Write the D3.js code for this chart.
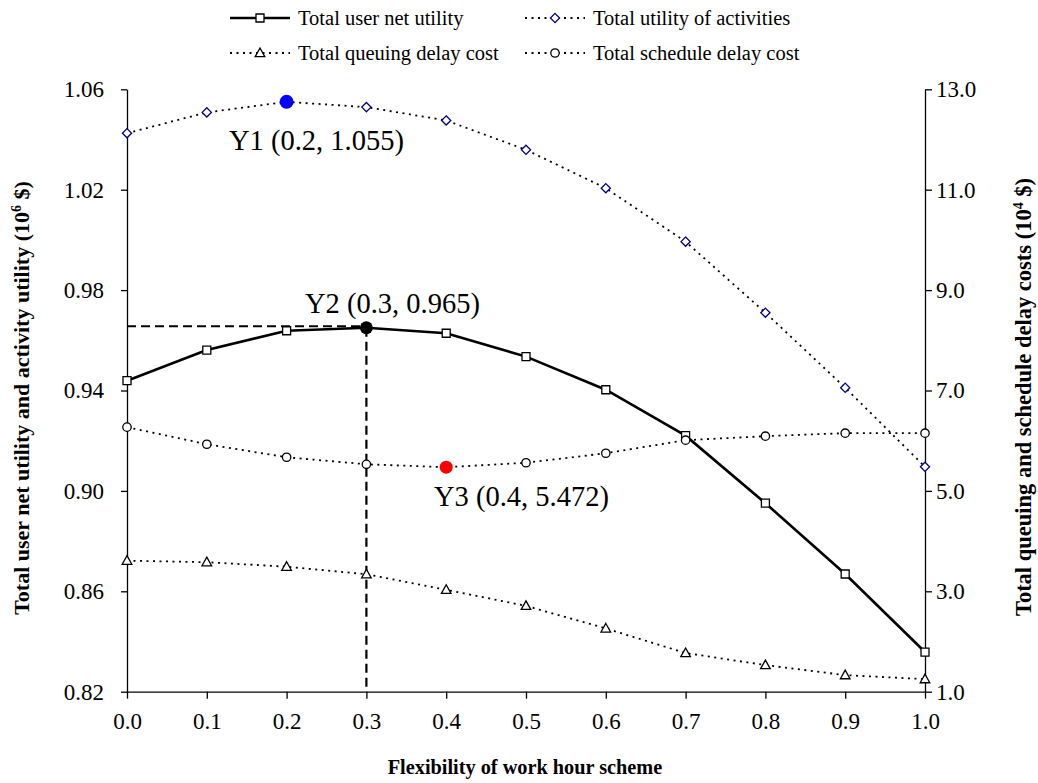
<!DOCTYPE html>
<html><head><meta charset="utf-8">
<script src="https://cdn.jsdelivr.net/npm/d3@7"></script>
<style>
body{margin:0;background:#fff}
svg{display:block;font-family:"Liberation Serif","Times New Roman",serif}
</style>
</head><body>
<svg id="chart" width="1038" height="783"></svg>
<script>
// ---------- data ----------
const flexibility = [0.0,0.1,0.2,0.3,0.4,0.5,0.6,0.7,0.8,0.9,1.0];
const netUtility = [0.9439,0.9561,0.9638,0.9650,0.9628,0.9535,0.9403,0.9220,0.8951,0.8669,0.8358];
const activityUtility = [1.0425,1.0508,1.0550,1.0529,1.0476,1.0359,1.0206,0.9993,0.9710,0.9411,0.9096];
const queuingCost = [3.61,3.58,3.49,3.34,3.03,2.71,2.26,1.77,1.53,1.33,1.25];
const scheduleCost = [6.27,5.93,5.67,5.53,5.472,5.56,5.75,6.01,6.09,6.15,6.15];
const leftTicks = [0.82,0.86,0.90,0.94,0.98,1.02,1.06];
const rightTicks = [1,3,5,7,9,11,13];
const xTicks = [0,0.1,0.2,0.3,0.4,0.5,0.6,0.7,0.8,0.9,1.0];
const seriesNames = ["Total user net utility","Total utility of activities","Total queuing delay cost","Total schedule delay cost"];
const highlightLabels = ["Y1 (0.2, 1.055)","Y2 (0.3, 0.965)","Y3 (0.4, 5.472)"];
const highlightX = [0.2,0.3,0.4];
const highlightY = [1.055,0.965,5.472];
const xTitle = "Flexibility of work hour scheme";

const FONT = '"Liberation Serif","Times New Roman",serif';

// ---------- scales ----------
const svg = d3.select("#chart");
const x = d3.scaleLinear().domain([0,1]).range([127,925]);
const yL = d3.scaleLinear().domain([0.82,1.06]).range([691.7,89.3]);
const yR = d3.scaleLinear().domain([1,13]).range([691.7,89.3]);

// ---------- axes ----------
function styleAxis(g){
  g.attr("font-family",FONT);
  g.selectAll("path,line").attr("stroke","#000").attr("stroke-width",1.3);
  g.selectAll("text").style("font-family",FONT).style("font-size","23px").attr("fill","#000");
}
svg.append("g").attr("transform","translate(0,691.7)")
  .call(d3.axisBottom(x).tickValues(xTicks).tickFormat(d3.format(".1f")).tickSize(7).tickSizeOuter(0).tickPadding(14))
  .call(styleAxis);
svg.append("g").attr("transform","translate(127,0)")
  .call(d3.axisLeft(yL).tickValues(leftTicks).tickFormat(d3.format(".2f")).tickSize(6).tickSizeOuter(0).tickPadding(17))
  .call(styleAxis);
svg.append("g").attr("transform","translate(925,0)")
  .call(d3.axisRight(yR).tickValues(rightTicks).tickFormat(d3.format(".1f")).tickSize(7).tickSizeOuter(0).tickPadding(4))
  .call(styleAxis);
svg.selectAll(".domain").attr("fill","none");

// ---------- axis titles ----------
function title(tx,ty,main,sup,size){
  const t = svg.append("text").attr("transform",`translate(${tx},${ty}) rotate(-90)`)
    .attr("text-anchor","middle").style("font-family",FONT).style("font-size",size+"px").style("font-weight","bold");
  t.append("tspan").text(main);
  t.append("tspan").text(sup).style("font-size","14px").attr("dy","-8");
  t.append("tspan").text(" $)").attr("dy","8");
}
title(29,398,"Total user net utility and activity utility (10","6",22);
title(1031,397,"Total queuing and schedule delay costs (10","4",22.5);

svg.append("text").attr("x",525).attr("y",774).attr("text-anchor","middle")
  .style("font-family",FONT).style("font-size","20.3px").style("font-weight","bold").text(xTitle);

// ---------- marker shapes ----------
const shapes = {
  square: "M-4,-4H4V4H-4Z",
  diamond: "M0,-4.6L4.6,0L0,4.6L-4.6,0Z",
  triangle: "M0,-5L4.8,3.6L-4.8,3.6Z",
  circle: d3.symbol().type(d3.symbolCircle).size(55)()
};

const series = [
  {values: netUtility, scale: yL, shape: "square", color: "#000", width: 2.6, dash: null},
  {values: activityUtility, scale: yL, shape: "diamond", color: "#000080", width: 1.8, dash: "2,4.5"},
  {values: queuingCost, scale: yR, shape: "triangle", color: "#000", width: 1.8, dash: "2,4.5"},
  {values: scheduleCost, scale: yR, shape: "circle", color: "#000", width: 1.8, dash: "2,4.5"}
];

// lines
series.forEach(s => {
  const line = d3.line().x((d,i)=>x(flexibility[i])).y(d=>s.scale(d));
  svg.append("path").datum(s.values).attr("d",line)
    .attr("fill","none").attr("stroke","#000").attr("stroke-width",s.width)
    .attr("stroke-dasharray",s.dash);
});

// Y2 guide lines
svg.append("line").attr("x1",x(0)).attr("x2",x(highlightX[1]))
  .attr("y1",yL(highlightY[1])-1.5).attr("y2",yL(highlightY[1])-1.5)
  .attr("stroke","#000").attr("stroke-width",2.2).attr("stroke-dasharray","9,5");
svg.append("line").attr("x1",x(highlightX[1])).attr("x2",x(highlightX[1]))
  .attr("y1",yL(highlightY[1])).attr("y2",yL(0.82))
  .attr("stroke","#000").attr("stroke-width",2.2).attr("stroke-dasharray","9,5");

// markers
series.forEach(s => {
  svg.append("g").selectAll("path").data(s.values).join("path")
    .attr("d",shapes[s.shape])
    .attr("transform",(d,i)=>`translate(${x(flexibility[i])},${s.scale(d)})`)
    .attr("fill","#fff").attr("stroke",s.color).attr("stroke-width",1.3);
});

// highlight points
const hlColors = ["#0000ff","#000","#ff0000"];
const hlScales = [yL,yL,yR];
const hlR = [7,6.5,6.5];
highlightX.forEach((hx,i)=>{
  svg.append("circle").attr("cx",x(hx)).attr("cy",hlScales[i](highlightY[i])).attr("r",hlR[i]).attr("fill",hlColors[i]);
});
// highlight labels
const hlLabelPos = [[229,150],[305,313],[434,506]];
highlightLabels.forEach((t,i)=>{
  svg.append("text").attr("x",hlLabelPos[i][0]).attr("y",hlLabelPos[i][1])
    .style("font-family",FONT).style("font-size","28.5px").text(t);
});

// ---------- legend ----------
const legendPos = [[230,18],[525,18],[230,53],[525,53]];
series.forEach((s,i)=>{
  const [lx,ly] = legendPos[i];
  svg.append("line").attr("x1",lx).attr("x2",lx+60).attr("y1",ly).attr("y2",ly)
    .attr("stroke","#000").attr("stroke-width",s.width).attr("stroke-dasharray",s.dash);
  svg.append("path").attr("d",shapes[s.shape]).attr("transform",`translate(${lx+30},${ly})`)
    .attr("fill","#fff").attr("stroke",s.color).attr("stroke-width",1.3);
  svg.append("text").attr("x",lx+68).attr("y",ly+7).style("font-family",FONT).style("font-size","20.5px").text(seriesNames[i]);
});
</script>
</body></html>
